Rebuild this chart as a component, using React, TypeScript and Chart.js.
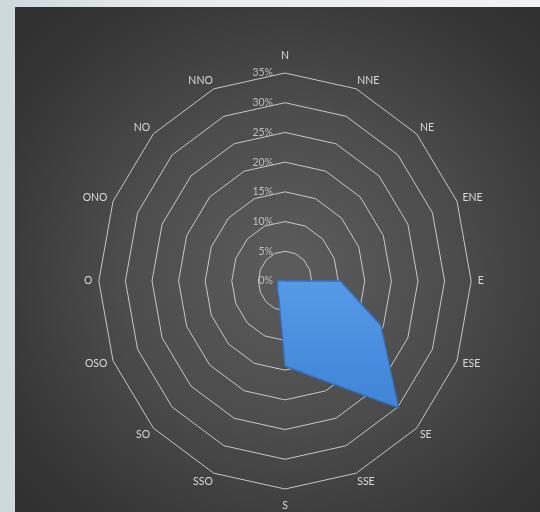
import React, { useEffect, useRef } from "react";
import { Chart, registerables } from "chart.js";

Chart.register(...registerables);

const CATEGORIES = ["N", "NNE", "NE", "ENE", "E", "ESE", "SE", "SSE", "S", "SSO", "SO", "OSO", "O", "ONO", "NO", "NNO"];
const FREQUENCY = [0, 0, 0, 0, 10.4, 19.5, 30.2, 18, 14.3, 3, 2, 1.5, 1.4, 0.3, 0, 0];
const TICK_VALUES = [0, 5, 10, 15, 20, 25, 30, 35];
const TICK_LABELS = ["0%", "5%", "10%", "15%", "20%", "25%", "30%", "35%"];

const SX = 0.895; // horizontal squeeze of the radar (ellipse)
const FONT = '10.5px Lato, "Open Sans", sans-serif';

const ellipsePlugin = {
  id: "ellipse",
  beforeDraw(chart: any) {
    const s = chart.scales.r;
    const ctx = chart.ctx;
    ctx.save();
    ctx.translate(s.xCenter, 0);
    ctx.scale(SX, 1);
    ctx.translate(-s.xCenter, 0);
  },
  afterDraw(chart: any) {
    const s = chart.scales.r;
    const ctx = chart.ctx;
    ctx.restore();
    const cx = s.xCenter;
    const cy = s.yCenter;
    ctx.save();
    ctx.font = FONT;
    ctx.textBaseline = "middle";
    ctx.fillStyle = "#d9d9d9";
    const n = CATEGORIES.length;
    for (let i = 0; i < n; i++) {
      const th = (i * Math.PI * 2) / n;
      const sn = Math.sin(th);
      const cs = Math.cos(th);
      const p = s.getPointPosition(i, s.drawingArea);
      const x = cx + (p.x - cx) * SX;
      const y = p.y;
      let tx = x;
      let ty = y;
      if (Math.abs(sn) < 0.01) {
        ctx.textAlign = "center";
        ty = y - cs * 17;
      } else {
        ctx.textAlign = sn > 0 ? "left" : "right";
        tx = x + Math.sign(sn) * 6.5 * sn * sn;
        ty = y - cs * 9;
      }
      ctx.fillText(CATEGORIES[i], tx, ty);
    }
    ctx.fillStyle = "#bfbfbf";
    ctx.textAlign = "right";
    TICK_VALUES.forEach((v, k) => {
      const d = s.getDistanceFromCenterForValue(v);
      ctx.fillText(TICK_LABELS[k], cx - 12, cy - d);
    });
    ctx.restore();
  },
};

function fillGradient(context: any) {
  const chart = context.chart;
  const area = chart.chartArea;
  if (!area) return "rgb(70,136,216)";
  const s = chart.scales.r;
  const g = chart.ctx.createLinearGradient(0, s.yCenter - 10, 0, s.yCenter + s.drawingArea * 0.9);
  g.addColorStop(0, "rgb(88,155,232)");
  g.addColorStop(0.5, "rgb(70,138,220)");
  g.addColorStop(1, "rgb(58,124,208)");
  return g;
}

export default function App() {
  const ref = useRef<HTMLCanvasElement | null>(null);
  useEffect(() => {
    if (!ref.current) return;
    const chart = new Chart(ref.current, {
      type: "radar",
      data: {
        labels: CATEGORIES,
        datasets: [
          {
            label: "Frecuencia",
            data: FREQUENCY,
            backgroundColor: fillGradient,
            borderColor: "rgb(52,112,190)",
            borderWidth: 1.5,
            borderJoinStyle: "round",
            pointRadius: 0,
            fill: true,
          },
        ],
      },
      options: {
        responsive: false,
        animation: false,
        devicePixelRatio: 1,
        layout: { padding: { left: 77, right: 47, top: 73, bottom: 23 } },
        plugins: { legend: { display: false }, tooltip: { enabled: false } },
        scales: {
          r: {
            min: 0,
            max: 35,
            ticks: { stepSize: 5, display: false },
            pointLabels: { display: false },
            angleLines: { display: false },
            grid: { circular: false, color: "rgba(220,220,220,0.9)", lineWidth: 1 },
          },
        },
      },
      plugins: [ellipsePlugin],
    });
    return () => chart.destroy();
  }, []);

  return (
    <div
      style={{
        position: "fixed",
        left: 0,
        top: 0,
        width: 540,
        height: 512,
        background: "linear-gradient(to right, #cdd8dc 0%, #e6eaee 30%, #f1f2f6 100%)",
        overflow: "hidden",
      }}
    >
      <div
        style={{
          position: "absolute",
          left: 15,
          top: 7,
          width: 525,
          height: 505,
          background: "radial-gradient(ellipse 70% 70% at 52% 52%, #5c5c5c 0%, #4c4c4c 45%, #353535 85%, #303030 100%)",
        }}
      />
      <canvas ref={ref} width={540} height={512} style={{ position: "absolute", left: 0, top: 0, width: 540, height: 512 }} />
    </div>
  );
}
